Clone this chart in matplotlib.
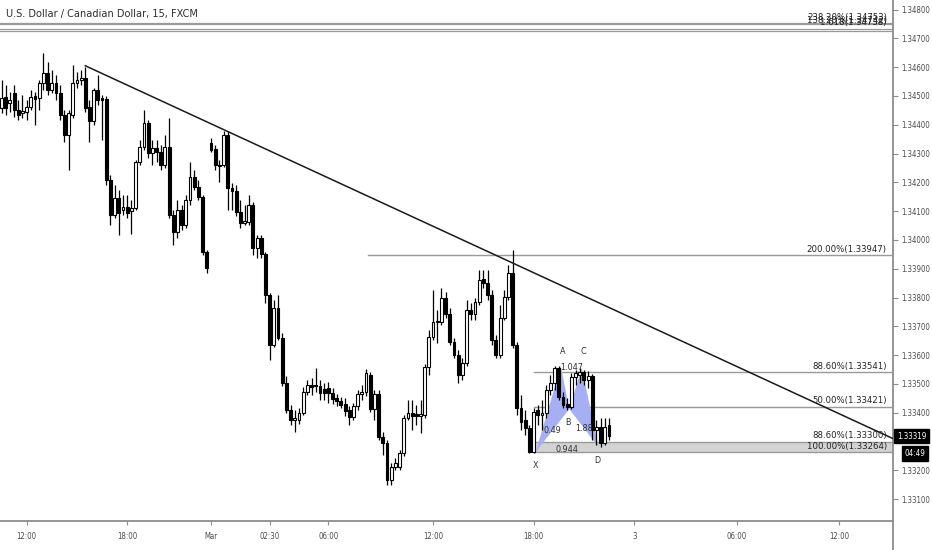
import numpy as np
import matplotlib.pyplot as plt
import matplotlib.transforms as mtransforms
from matplotlib.lines import Line2D

# ======= DATA (USD/CAD 15m, FXCM) ========
opens = [
    1.34458, 1.34496, 1.34475, 1.34510, 1.34451, 1.34441, 1.34444, 1.34461, 1.34500, 1.34493,
    1.34545, 1.34580, 1.34521, 1.34545, 1.34510, 1.34434, 1.34364, 1.34434, 1.34545, 1.34555,
    1.34562, 1.34461, 1.34413, 1.34521, 1.34493, 1.34489, 1.34208, 1.34087, 1.34146, 1.34104,
    1.34114, 1.34100, 1.34111, 1.34271, 1.34323, 1.34406, 1.34302, 1.34319, 1.34305, 1.34260,
    1.34323, 1.34087, 1.34027, 1.34104, 1.34052, 1.34139, 1.34218, 1.34184, 1.34149, 1.33958,
    1.34336, 1.34316, 1.34260, 1.34260, 1.34364, 1.34180, 1.34170, 1.34097, 1.34059, 1.34062,
    1.34121, 1.33972, 1.34007, 1.33951, 1.33809, 1.33635, 1.33764, 1.33659, 1.33503, 1.33409,
    1.33375, 1.33375, 1.33399, 1.33472, 1.33496, 1.33493, 1.33493, 1.33482, 1.33486, 1.33468,
    1.33451, 1.33441, 1.33430, 1.33409, 1.33385, 1.33423, 1.33465, 1.33472, 1.33531, 1.33413,
    1.33465, 1.33316, 1.33295, 1.33166, 1.33212, 1.33212, 1.33260, 1.33382, 1.33399, 1.33395,
    1.33389, 1.33392, 1.33559, 1.33663, 1.33715, 1.33715, 1.33798, 1.33743, 1.33646, 1.33600,
    1.33531, 1.33573, 1.33757, 1.33743, 1.33784, 1.33864, 1.33850, 1.33809, 1.33652, 1.33600,
    1.33729, 1.33802, 1.33885, 1.33635, 1.33416, 1.33375, 1.33347, 1.33264, 1.33409, 1.33392,
    1.33399, 1.33479, 1.33503, 1.33555, 1.33455, 1.33430, 1.33420, 1.33524, 1.33531, 1.33541,
    1.33514, 1.33527, 1.33340, 1.33350, 1.33295, 1.33357,
]
highs = [
    1.34555, 1.34538, 1.34514, 1.34538, 1.34486, 1.34503, 1.34486, 1.34521, 1.34514, 1.34555,
    1.34649, 1.34618, 1.34590, 1.34573, 1.34538, 1.34451, 1.34451, 1.34607, 1.34583, 1.34590,
    1.34600, 1.34486, 1.34527, 1.34573, 1.34503, 1.34500, 1.34225, 1.34191, 1.34173, 1.34156,
    1.34156, 1.34139, 1.34277, 1.34347, 1.34451, 1.34416, 1.34347, 1.34347, 1.34330, 1.34364,
    1.34423, 1.34104, 1.34139, 1.34121, 1.34156, 1.34271, 1.34243, 1.34208, 1.34156, 1.33965,
    1.34354, 1.34330, 1.34277, 1.34378, 1.34378, 1.34198, 1.34191, 1.34139, 1.34121, 1.34156,
    1.34132, 1.34017, 1.34017, 1.33958, 1.33816, 1.33791, 1.33809, 1.33677, 1.33527, 1.33427,
    1.33409, 1.33416, 1.33489, 1.33514, 1.33520, 1.33555, 1.33514, 1.33503, 1.33507, 1.33486,
    1.33465, 1.33455, 1.33451, 1.33423, 1.33434, 1.33479, 1.33496, 1.33552, 1.33541, 1.33479,
    1.33479, 1.33333, 1.33305, 1.33225, 1.33243, 1.33271, 1.33392, 1.33444, 1.33444, 1.33427,
    1.33444, 1.33569, 1.33687, 1.33826, 1.33757, 1.33833, 1.33819, 1.33764, 1.33659, 1.33618,
    1.33590, 1.33791, 1.33781, 1.33798, 1.33896, 1.33896, 1.33896, 1.33826, 1.33670, 1.33774,
    1.33826, 1.33913, 1.33965, 1.33646, 1.33461, 1.33409, 1.33357, 1.33416, 1.33427, 1.33444,
    1.33496, 1.33531, 1.33562, 1.33562, 1.33472, 1.33451, 1.33538, 1.33548, 1.33555, 1.33548,
    1.33545, 1.33534, 1.33375, 1.33382, 1.33382, 1.33382,
]
lows = [
    1.34441, 1.34434, 1.34444, 1.34427, 1.34416, 1.34423, 1.34416, 1.34451, 1.34399, 1.34451,
    1.34521, 1.34503, 1.34510, 1.34486, 1.34416, 1.34340, 1.34243, 1.34423, 1.34527, 1.34538,
    1.34444, 1.34340, 1.34399, 1.34468, 1.34347, 1.34191, 1.34052, 1.34076, 1.34017, 1.34087,
    1.34076, 1.34021, 1.34104, 1.34260, 1.34312, 1.34284, 1.34260, 1.34271, 1.34243, 1.34250,
    1.34076, 1.33982, 1.34007, 1.34034, 1.34041, 1.34121, 1.34173, 1.34139, 1.33948, 1.33885,
    1.34305, 1.34243, 1.34201, 1.34253, 1.34104, 1.34104, 1.34083, 1.34041, 1.34052, 1.34052,
    1.33948, 1.33937, 1.33937, 1.33781, 1.33583, 1.33628, 1.33652, 1.33493, 1.33399, 1.33357,
    1.33333, 1.33361, 1.33392, 1.33461, 1.33461, 1.33472, 1.33444, 1.33444, 1.33434, 1.33430,
    1.33423, 1.33416, 1.33389, 1.33357, 1.33375, 1.33409, 1.33444, 1.33458, 1.33402, 1.33375,
    1.33305, 1.33253, 1.33149, 1.33149, 1.33201, 1.33201, 1.33250, 1.33375, 1.33340, 1.33357,
    1.33330, 1.33382, 1.33531, 1.33652, 1.33642, 1.33705, 1.33729, 1.33635, 1.33590, 1.33503,
    1.33514, 1.33562, 1.33722, 1.33722, 1.33774, 1.33833, 1.33791, 1.33635, 1.33590, 1.33590,
    1.33722, 1.33791, 1.33625, 1.33392, 1.33340, 1.33323, 1.33260, 1.33260, 1.33357, 1.33340,
    1.33382, 1.33461, 1.33479, 1.33444, 1.33416, 1.33409, 1.33413, 1.33496, 1.33503, 1.33496,
    1.33486, 1.33305, 1.33288, 1.33281, 1.33288, 1.33305,
]
closes = [
    1.34493, 1.34458, 1.34486, 1.34451, 1.34434, 1.34448, 1.34461, 1.34496, 1.34489, 1.34545,
    1.34580, 1.34521, 1.34545, 1.34510, 1.34434, 1.34364, 1.34441, 1.34545, 1.34555, 1.34562,
    1.34458, 1.34413, 1.34521, 1.34486, 1.34486, 1.34208, 1.34087, 1.34146, 1.34093, 1.34114,
    1.34093, 1.34111, 1.34271, 1.34323, 1.34406, 1.34302, 1.34319, 1.34305, 1.34260, 1.34323,
    1.34087, 1.34027, 1.34104, 1.34052, 1.34139, 1.34218, 1.34184, 1.34149, 1.33958, 1.33902,
    1.34312, 1.34260, 1.34257, 1.34364, 1.34180, 1.34170, 1.34097, 1.34059, 1.34066, 1.34121,
    1.33972, 1.34007, 1.33951, 1.33809, 1.33635, 1.33764, 1.33659, 1.33503, 1.33409, 1.33375,
    1.33382, 1.33399, 1.33472, 1.33496, 1.33489, 1.33496, 1.33468, 1.33468, 1.33468, 1.33448,
    1.33441, 1.33427, 1.33406, 1.33385, 1.33423, 1.33465, 1.33472, 1.33538, 1.33413, 1.33465,
    1.33316, 1.33295, 1.33166, 1.33212, 1.33225, 1.33260, 1.33382, 1.33399, 1.33389, 1.33389,
    1.33395, 1.33559, 1.33663, 1.33715, 1.33718, 1.33798, 1.33743, 1.33646, 1.33600, 1.33531,
    1.33573, 1.33757, 1.33743, 1.33784, 1.33861, 1.33850, 1.33809, 1.33652, 1.33600, 1.33729,
    1.33802, 1.33885, 1.33635, 1.33416, 1.33368, 1.33347, 1.33264, 1.33402, 1.33392, 1.33399,
    1.33479, 1.33503, 1.33555, 1.33455, 1.33427, 1.33420, 1.33524, 1.33538, 1.33541, 1.33514,
    1.33527, 1.33340, 1.33350, 1.33295, 1.33350, 1.33319,
]

# time axis labels (bar index positions)
time_ticks = [6, 30, 50, 64, 78, 103, 127, 151, 175.5, 200]
time_labels = ['12:00', '18:00', 'Mar', '02:30', '06:00', '12:00', '18:00', '3', '06:00', '12:00']

price_ticks = [1.348, 1.347, 1.346, 1.345, 1.344, 1.343, 1.342, 1.341, 1.340,
               1.339, 1.338, 1.337, 1.336, 1.335, 1.334, 1.332, 1.331]

# fib levels: price, label, start bar
fib_prices = [1.33947, 1.33541, 1.33421, 1.33300, 1.33264]
fib_labels = ['200.00%(1.33947)', '88.60%(1.33541)', '50.00%(1.33421)',
              '88.60%(1.33300)', '100.00%(1.33264)']
fib_start = [87.5, 127, 127, 127, 127]

top_lines = [1.34755, 1.34750, 1.34731, 1.34727]
top_labels = ['238.20%(1.34753)', '138.20%(1.34742)', '1.618(1.34738)']
top_label_prices = [1.34753, 1.34742, 1.34735]

# harmonic XABCD
pat_names = ['X', 'A', 'B', 'C', 'D']
pat_idx = [127.5, 133.5, 135.5, 138.5, 142.5]
pat_price = [1.33264, 1.33562, 1.33413, 1.33555, 1.33281]
ratio_text = ['0.49', '1.047', '1.88', '0.944']
ratio_pairs = [(0, 2), (1, 3), (2, 4), (0, 4)]

# trendline anchors (bar, price)
trend_a = (20, 1.34605)
trend_b = (122, 1.33920)

last_price = 1.33319
countdown = '04:49'
# ==========================

plt.rcParams['font.family'] = ['DejaVu Sans']
plt.rcParams['font.stretch'] = 'condensed'

o = np.array(opens)
h = np.array(highs)
l = np.array(lows)
c = np.array(closes)
x = np.arange(len(o))
up = c >= o

fig = plt.figure(figsize=(9.32, 5.5), dpi=100)
ax = fig.add_axes([0, 1 - 521 / 550, 893 / 932, 521 / 550])
ax.set_xlim(-0.36, 212.77)
ax.set_ylim(1.330243, 1.348333)

right_x = ax.get_xlim()[1]
fib_col = '#9a9a9a'
txt_col = '#222222'

# gray band between 88.6% and 100%
ax.fill_between([fib_start[3], right_x], fib_prices[4], fib_prices[3],
                color='#d3d3d3', zorder=1, lw=0)

# fib lines + labels
for p, lab, s in zip(fib_prices, fib_labels, fib_start):
    ax.plot([s, right_x], [p, p], color=fib_col, lw=1, zorder=1.5)
    ax.annotate(lab, xy=(0.993, p), xycoords=('axes fraction', 'data'),
                xytext=(0, 1), textcoords='offset points',
                ha='right', va='bottom', fontsize=6.8, color=txt_col, zorder=6)

for p in top_lines:
    ax.axhline(p, color=fib_col, lw=0.9, zorder=1.5)
for p, lab in zip(top_label_prices, top_labels):
    ax.annotate(lab, xy=(0.993, p), xycoords=('axes fraction', 'data'),
                xytext=(0, 1), textcoords='offset points',
                ha='right', va='bottom', fontsize=6.8, color=txt_col, zorder=6)

# harmonic pattern triangles
px = np.array(pat_idx, dtype=float)
py = np.array(pat_price)
ax.fill(px[[0, 1, 2]], py[[0, 1, 2]], color='#a7aff3', lw=0, zorder=2)
ax.fill(px[[2, 3, 4]], py[[2, 3, 4]], color='#a7aff3', lw=0, zorder=2)

# trendline
slope = (trend_b[1] - trend_a[1]) / (trend_b[0] - trend_a[0])
tx = np.array([trend_a[0], right_x + 5])
ax.plot(tx, trend_a[1] + slope * (tx - trend_a[0]), color='#1a1a1a', lw=1.1, zorder=5)

# candles
ax.vlines(x, l, h, color='black', lw=0.9, zorder=3)
body = np.maximum(np.abs(c - o), 0.000025)
ax.bar(x, body, bottom=np.minimum(o, c), width=0.68,
       color=np.where(up, 'white', 'black'), edgecolor='black', linewidth=0.8, zorder=4)

# pattern labels
offs = {'X': (0, -13), 'A': (1, 7), 'B': (-1, -13), 'C': (1, 9), 'D': (-1, -13)}
for n, xi, yi in zip(pat_names, px, py):
    ax.annotate(n, xy=(xi, yi), xytext=offs[n], textcoords='offset points',
                ha='center', va='bottom', fontsize=6.5, color='#333333', zorder=6)
for t, (i, j) in zip(ratio_text, ratio_pairs):
    ax.text((px[i] + px[j]) / 2, (py[i] + py[j]) / 2, t, ha='center', va='center',
            fontsize=6.5, color='#333333', zorder=6)

# axes styling
for s in ['top', 'left']:
    ax.spines[s].set_visible(False)
for s in ['right', 'bottom']:
    ax.spines[s].set_color('#8c8c8c')
    ax.spines[s].set_linewidth(1.3)

ax.yaxis.tick_right()
ax.set_yticks(price_ticks)
ax.set_yticklabels(['%.5f' % p for p in price_ticks])
ax.tick_params(axis='y', length=3.5, width=0.8, color='#8c8c8c', pad=2.5,
               labelsize=5.6, labelcolor='#4a4a4a')
ax.set_xticks(time_ticks)
ax.set_xticklabels(time_labels)
ax.tick_params(axis='x', length=3, width=0.8, color='#8c8c8c', pad=5,
               labelsize=5.6, labelcolor='#4a4a4a')

# vertical axis line continues into the time scale
fig.add_artist(Line2D([893 / 932, 893 / 932], [0, 1 - 521 / 550], color='#8c8c8c', lw=1.3))

# last price + countdown boxes
trans = mtransforms.blended_transform_factory(ax.transAxes, ax.transData)
ax.text(1.0045, last_price, '%.5f' % last_price, transform=trans, ha='left', va='center',
        fontsize=5.8, color='white', clip_on=False, zorder=10,
        bbox=dict(boxstyle='square,pad=0.35', fc='black', ec='black'))
ax.text(1.013, 1.33258, countdown, transform=trans, ha='left', va='center',
        fontsize=5.8, color='white', clip_on=False, zorder=10,
        bbox=dict(boxstyle='square,pad=0.35', fc='black', ec='black'))

fig.text(6 / 932, 1 - 14 / 550, 'U.S. Dollar / Canadian Dollar, 15, FXCM',
         ha='left', va='center', fontsize=7.8, color='#2e2e2e')

fig.savefig('out.png', dpi=100, facecolor='white')
